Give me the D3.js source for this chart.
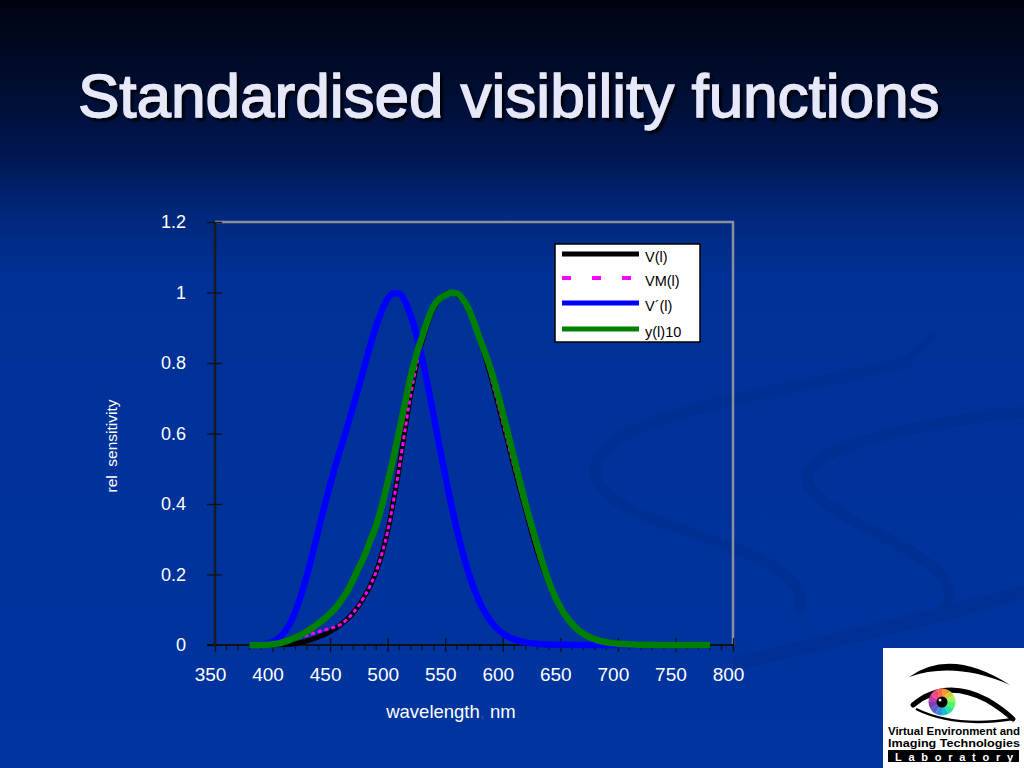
<!DOCTYPE html>
<html>
<head>
<meta charset="utf-8">
<script src="https://cdn.jsdelivr.net/npm/d3@7"></script>
<style>
html, body { margin: 0; padding: 0; background: #00339c; overflow: hidden; }
svg { display: block; }
text { font-family: "Liberation Sans", Arial, sans-serif; }
</style>
</head>
<body>
<svg id="slide" width="1024" height="768"></svg>
<script>
// wavelengths, nm (5 nm steps)
const WAVELENGTH = [
	380, 385, 390, 395, 400, 405, 410, 415, 420, 425,
	430, 435, 440, 445, 450, 455, 460, 465, 470, 475,
	480, 485, 490, 495, 500, 505, 510, 515, 520, 525,
	530, 535, 540, 545, 550, 555, 560, 565, 570, 575,
	580, 585, 590, 595, 600, 605, 610, 615, 620, 625,
	630, 635, 640, 645, 650, 655, 660, 665, 670, 675,
	680, 685, 690, 695, 700, 705, 710, 715, 720, 725,
	730, 735, 740, 745, 750, 755, 760, 765, 770, 775,
	780
];

// V(l) photopic
const V_PHOTOPIC = [
	0.000039, 0.000064, 0.00012, 0.000217, 0.000396, 0.00064, 0.00121, 0.00218, 0.004, 0.0073,
	0.0116, 0.01684, 0.023, 0.0298, 0.038, 0.048, 0.06, 0.0739, 0.09098, 0.1126,
	0.13902, 0.1693, 0.20802, 0.2586, 0.323, 0.4073, 0.503, 0.6082, 0.71, 0.7932,
	0.862, 0.91485, 0.954, 0.9803, 0.99495, 1.0, 0.995, 0.9786, 0.952, 0.9154,
	0.87, 0.8163, 0.757, 0.6949, 0.631, 0.5668, 0.503, 0.4412, 0.381, 0.321,
	0.265, 0.217, 0.175, 0.1382, 0.107, 0.0816, 0.061, 0.04458, 0.032, 0.0232,
	0.017, 0.01192, 0.00821, 0.005723, 0.004102, 0.002929, 0.002091, 0.001484, 0.001047, 0.00074,
	0.00052, 0.000361, 0.000249, 0.000172, 0.00012, 0.0000848, 0.00006, 0.0000424, 0.00003, 0.0000212,
	0.000015
];

// VM(l) modified photopic
const VM_MODIFIED = [
	0.0002, 0.000396, 0.0008, 0.00155, 0.0028, 0.00466, 0.0074, 0.0118, 0.0175, 0.0227,
	0.0273, 0.0326, 0.0379, 0.0424, 0.0468, 0.0522, 0.06, 0.0739, 0.09098, 0.1126,
	0.13902, 0.1693, 0.20802, 0.2586, 0.323, 0.4073, 0.503, 0.6082, 0.71, 0.7932,
	0.862, 0.91485, 0.954, 0.9803, 0.99495, 1.0, 0.995, 0.9786, 0.952, 0.9154,
	0.87, 0.8163, 0.757, 0.6949, 0.631, 0.5668, 0.503, 0.4412, 0.381, 0.321,
	0.265, 0.217, 0.175, 0.1382, 0.107, 0.0816, 0.061, 0.04458, 0.032, 0.0232,
	0.017, 0.01192, 0.00821, 0.005723, 0.004102, 0.002929, 0.002091, 0.001484, 0.001047, 0.00074,
	0.00052, 0.000361, 0.000249, 0.000172, 0.00012, 0.0000848, 0.00006, 0.0000424, 0.00003, 0.0000212,
	0.000015
];

// V'(l) scotopic
const V_SCOTOPIC = [
	0.000589, 0.001108, 0.002209, 0.00453, 0.00929, 0.01852, 0.03484, 0.0604, 0.0966, 0.1436,
	0.1998, 0.2625, 0.3281, 0.3931, 0.455, 0.513, 0.567, 0.62, 0.676, 0.734,
	0.793, 0.851, 0.904, 0.949, 0.982, 0.998, 0.997, 0.975, 0.935, 0.88,
	0.811, 0.733, 0.65, 0.564, 0.481, 0.402, 0.3288, 0.2639, 0.2076, 0.1602,
	0.1212, 0.0899, 0.0655, 0.0469, 0.03315, 0.02312, 0.01593, 0.01088, 0.00737, 0.00497,
	0.003335, 0.002235, 0.001497, 0.001005, 0.000677, 0.000459, 0.000313, 0.000215, 0.000148, 0.000103,
	0.000072, 0.00005, 0.000035, 0.000025, 0.000018, 0.0000128, 0.0000093, 0.0000067, 0.0000048, 0.0000035,
	0.0000025, 0.0000018, 0.0000013, 0.0000009, 0.0000007, 0.0000005, 0.0000003, 0.0000002, 0.0000002, 0.0000001,
	0.0000001
];

// y(l)10, 10 degree observer
const Y10 = [
	0.000017, 0.000072, 0.000253, 0.000769, 0.002004, 0.004509, 0.008756, 0.014456, 0.021391, 0.029497,
	0.038676, 0.049602, 0.062077, 0.074704, 0.089456, 0.106256, 0.128201, 0.152761, 0.18519, 0.21994,
	0.253589, 0.297665, 0.339133, 0.395379, 0.460777, 0.53136, 0.606741, 0.68566, 0.761757, 0.82333,
	0.875211, 0.92381, 0.961988, 0.9822, 0.991761, 0.99911, 0.99734, 0.98238, 0.955552, 0.915175,
	0.868934, 0.825623, 0.777405, 0.720353, 0.658341, 0.593878, 0.527963, 0.461834, 0.398057, 0.339554,
	0.283493, 0.228254, 0.179828, 0.140211, 0.107633, 0.081187, 0.060281, 0.044096, 0.0318, 0.022602,
	0.015905, 0.01113, 0.007749, 0.005375, 0.003718, 0.002565, 0.001768, 0.001222, 0.000846, 0.000586,
	0.000407, 0.000284, 0.000199, 0.00014, 0.000098, 0.00007, 0.00005, 0.000036, 0.000025, 0.000018,
	0.000013
];

const SERIES_NAMES = ['V(l)', 'VM(l)', 'V\u00B4(l)', 'y(l)10'];
const X_TICKS = [350, 400, 450, 500, 550, 600, 650, 700, 750, 800];
const Y_TICKS = [0, 0.2, 0.4, 0.6, 0.8, 1, 1.2];

const TITLE = 'Standardised visibility functions';

const styles = [
	{ color: '#000000', width: 5, dash: null, legendW: 5, legendDash: null },
	{ color: '#ff00ff', width: 3, dash: '4,3', legendW: 4, legendDash: '9,21' },
	{ color: '#0000ff', width: 6.5, dash: null, legendW: 5, legendDash: null },
	{ color: '#008000', width: 6.5, dash: null, legendW: 5, legendDash: null }
];

const plot = { left: 215, right: 733, top: 222, bottom: 645 };

const $svg = d3.select('#slide');

function setupBackground() {
	const defs = $svg.append('defs');
	const grad = defs.append('linearGradient')
		.attr('id', 'bg-grad')
		.attr('x1', 0).attr('x2', 0).attr('y1', 0).attr('y2', 1);
	[
		[0, '#00020c'], [0.02, '#000517'], [0.1, '#000c2c'],
		[0.2, '#001650'], [0.28, '#00287c'], [0.36, '#003197'], [1, '#00349f']
	].forEach(([o, c]) => grad.append('stop').attr('offset', o).attr('stop-color', c));

	const shadow = defs.append('filter')
		.attr('id', 'title-shadow')
		.attr('x', '-5%').attr('y', '-20%')
		.attr('width', '110%').attr('height', '140%');
	shadow.append('feDropShadow')
		.attr('dx', 3).attr('dy', 3)
		.attr('stdDeviation', 0.8)
		.attr('flood-color', '#000000')
		.attr('flood-opacity', 0.85);

	$svg.append('rect')
		.attr('width', 1024).attr('height', 768)
		.attr('fill', 'url(#bg-grad)');

	// faint swirls in the slide template
	const swirl = $svg.append('g')
		.attr('fill', 'none')
		.attr('stroke', '#002b88')
		.attr('stroke-linecap', 'round')
		.attr('opacity', 0.35);
	swirl.append('path')
		.attr('d', 'M905,362 C820,385 700,400 630,432 C575,460 585,495 660,522 C740,550 810,570 800,610')
		.attr('stroke-width', 11);
	swirl.append('path')
		.attr('d', 'M1024,412 C950,420 860,435 822,458 C790,478 810,500 880,535 C940,565 965,590 940,612')
		.attr('stroke-width', 11);
	swirl.append('path')
		.attr('d', 'M740,662 C840,640 940,615 1024,592')
		.attr('stroke-width', 14);
	swirl.append('path')
		.attr('d', 'M905,362 C935,340 950,320 908,356')
		.attr('stroke-width', 4);
}

function drawTitle() {
	$svg.append('text')
		.attr('x', 78).attr('y', 117)
		.attr('font-size', 62)
		.attr('fill', '#e8e8fb')
		.attr('stroke', '#e8e8fb')
		.attr('stroke-width', 1.4)
		.attr('filter', 'url(#title-shadow)')
		.text(TITLE);
}

function drawChart() {
	const x = d3.scaleLinear().domain([350, 800]).range([plot.left, plot.right]);
	const y = d3.scaleLinear().domain([0, 1.2]).range([plot.bottom, plot.top]);

	const g = $svg.append('g').attr('class', 'chart');

	// top and right frame
	g.append('path')
		.attr('d', `M${plot.left},${y(1.2)}H${x(800)}V${y(0)}`)
		.attr('fill', 'none')
		.attr('stroke', '#8c8e9e')
		.attr('stroke-width', 2.5);

	// minor x ticks
	const minor = x.ticks(45).filter(v => !X_TICKS.includes(v));
	g.append('g')
		.selectAll('line')
		.data(minor)
		.join('line')
		.attr('x1', d => x(d)).attr('x2', d => x(d))
		.attr('y1', y(0)).attr('y2', y(0) + 5)
		.attr('stroke', '#111')
		.attr('stroke-width', 1.2);

	const axisX = d3.axisBottom(x)
		.tickValues(X_TICKS)
		.tickSizeInner(7)
		.tickSizeOuter(0)
		.tickPadding(16)
		.tickFormat(d3.format('d'));
	const $ax = g.append('g')
		.attr('transform', `translate(0,${y(0)})`)
		.call(axisX);
	$ax.select('.domain')
		.attr('d', `M${x(350) - 8},0H${x(800)}`)
		.attr('stroke', '#111').attr('stroke-width', 2);
	$ax.selectAll('.tick line').attr('y1', -7).attr('stroke', '#111').attr('stroke-width', 1.3);
	$ax.selectAll('.tick text')
		.attr('dx', -5)
		.attr('fill', '#ffffff')
		.attr('font-size', 19)
		.attr('font-family', '"Liberation Sans", Arial, sans-serif');

	const axisY = d3.axisLeft(y)
		.tickValues(Y_TICKS)
		.tickSizeInner(8)
		.tickSizeOuter(0)
		.tickPadding(21)
		.tickFormat(d3.format('~g'));
	const $ay = g.append('g')
		.attr('transform', `translate(${plot.left},0)`)
		.call(axisY);
	$ay.select('.domain')
		.attr('d', `M0,${y(0)}V${y(1.2)}`)
		.attr('stroke', '#1a1a22').attr('stroke-width', 2.5);
	$ay.selectAll('.tick line').attr('x2', 7).attr('x1', -8).attr('stroke', '#111').attr('stroke-width', 1.3);
	$ay.selectAll('.tick text')
		.attr('fill', '#ffffff')
		.attr('font-size', 18)
		.attr('font-family', '"Liberation Sans", Arial, sans-serif');

	// axis titles
	const xl = g.append('text')
		.attr('x', 451).attr('y', 718)
		.attr('text-anchor', 'middle')
		.attr('font-size', 18.5)
		.attr('fill', '#ffffff');
	xl.append('tspan').text('wavelength');
	xl.append('tspan').attr('fill', '#2a4c9e').text(',');
	xl.append('tspan').text(' nm');

	const yl = g.append('text')
		.attr('transform', 'translate(117,446) rotate(-90)')
		.attr('text-anchor', 'middle')
		.attr('font-size', 15.5)
		.attr('fill', '#ffffff');
	yl.append('tspan').text('rel');
	yl.append('tspan').attr('fill', '#1f3f94').text('.');
	yl.append('tspan').text(' sensitivity');

	// curves
	const line = d3.line()
		.x(d => x(d[0]))
		.y(d => y(d[1]))
		.curve(d3.curveMonotoneX);

	const series = [V_PHOTOPIC, VM_MODIFIED, V_SCOTOPIC, Y10].map((vals, i) => ({
		name: SERIES_NAMES[i],
		style: styles[i],
		points: WAVELENGTH.map((w, j) => [w, vals[j]])
	}));

	g.append('g')
		.selectAll('path')
		.data(series)
		.join('path')
		.attr('d', d => line(d.points))
		.attr('fill', 'none')
		.attr('stroke', d => d.style.color)
		.attr('stroke-width', d => d.style.width)
		.attr('stroke-dasharray', d => d.style.dash)
		.attr('stroke-linejoin', 'round');

	// legend
	const lg = g.append('g').attr('transform', 'translate(555,244)');
	lg.append('rect')
		.attr('width', 145).attr('height', 98)
		.attr('fill', '#ffffff')
		.attr('stroke', '#000000')
		.attr('stroke-width', 1.5);
	const rowY = [10, 34, 59, 85];
	const $row = lg.selectAll('g.row')
		.data(series)
		.join('g')
		.attr('class', 'row')
		.attr('transform', (d, i) => `translate(0,${rowY[i]})`);
	$row.append('line')
		.attr('x1', 7).attr('x2', 84)
		.attr('stroke', d => d.style.color)
		.attr('stroke-width', d => d.style.legendW)
		.attr('stroke-dasharray', d => d.style.legendDash);
	$row.append('text')
		.attr('x', 90).attr('y', 8)
		.attr('font-size', 14.5)
		.attr('fill', '#000000')
		.text(d => d.name);
}

function drawLogo() {
	const g = $svg.append('g').attr('transform', 'translate(883,648)');
	g.append('rect').attr('width', 141).attr('height', 120).attr('fill', '#ffffff');

	// eyebrow
	g.append('path')
		.attr('d', 'M26,29 Q68,-1 127,37 Q72,13 26,29 Z')
		.attr('fill', '#000');
	// eye lids
	g.append('path')
		.attr('d', 'M30,57 Q62,30 104,52 Q118,60 130,71')
		.attr('fill', 'none').attr('stroke', '#000').attr('stroke-width', 5)
		.attr('stroke-linecap', 'round');
	g.append('path')
		.attr('d', 'M33,61 Q72,80 130,71')
		.attr('fill', 'none').attr('stroke', '#000').attr('stroke-width', 2.5);

	// rainbow iris
	const wedges = d3.range(12);
	const arc = d3.arc().innerRadius(4).outerRadius(13.5);
	const pie = d3.pie().sort(null).value(1)(wedges);
	g.append('g')
		.attr('transform', 'translate(59,54)')
		.selectAll('path')
		.data(pie)
		.join('path')
		.attr('d', arc)
		.attr('fill', (d, i) => d3.interpolateRainbow((i / 12 + 0.35) % 1));
	g.append('circle').attr('cx', 59).attr('cy', 54).attr('r', 5.5).attr('fill', '#000');
	g.append('circle').attr('cx', 57).attr('cy', 52).attr('r', 1.5).attr('fill', '#fff');

	const font = '"DejaVu Sans Condensed", "DejaVu Sans", sans-serif';
	g.append('text')
		.attr('x', 5).attr('y', 87)
		.attr('font-family', font).attr('font-weight', 'bold').attr('font-size', 11.5)
		.attr('textLength', 132).attr('lengthAdjust', 'spacingAndGlyphs')
		.attr('fill', '#000')
		.text('Virtual Environment and');
	g.append('text')
		.attr('x', 5).attr('y', 99)
		.attr('font-family', font).attr('font-weight', 'bold').attr('font-size', 11.5)
		.attr('textLength', 132).attr('lengthAdjust', 'spacingAndGlyphs')
		.attr('fill', '#000')
		.text('Imaging Technologies');
	g.append('rect').attr('x', 5).attr('y', 102).attr('width', 131).attr('height', 12).attr('fill', '#000');
	g.append('text')
		.attr('x', 12).attr('y', 112.5)
		.attr('font-family', font).attr('font-weight', 'bold').attr('font-size', 11)
		.attr('textLength', 118).attr('lengthAdjust', 'spacing')
		.attr('fill', '#fff')
		.text('Laboratory');
}

setupBackground();
drawTitle();
drawChart();
drawLogo();
</script>
</body>
</html>
